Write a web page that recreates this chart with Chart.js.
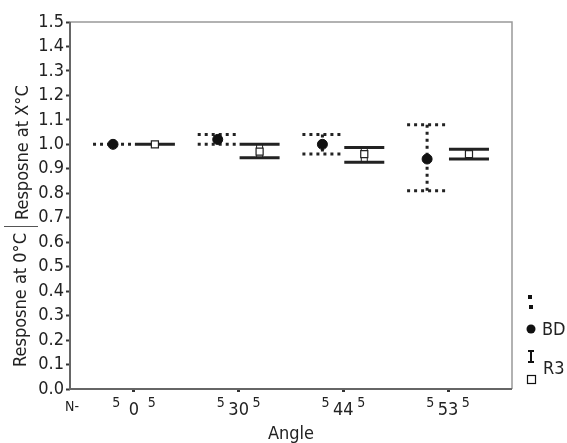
<!DOCTYPE html>
<html>
<head>
<meta charset="utf-8">
<script src="https://cdn.jsdelivr.net/npm/chart.js@4"></script>
<style>
  body { margin: 0; background: #fff; }
  #wrap { width: 567px; height: 443px; }
</style>
</head>
<body>
<div id="wrap"><canvas id="chart" width="567" height="443"></canvas></div>
<script>
const angles = ["0", "30", "44", "53"];

const bdMean = [1.00, 1.02, 1.00, 0.94];
const bdLow = [1.00, 1.00, 0.96, 0.81];
const bdHigh = [1.00, 1.04, 1.04, 1.08];
const bdN = [5, 5, 5, 5];

const r3Mean = [1.00, 0.97, 0.96, 0.96];
const r3Low = [1.00, 0.945, 0.927, 0.94];
const r3High = [1.00, 1.00, 0.987, 0.98];
const r3N = [5, 5, 5, 5];

const yTicks = [0, 0.1, 0.2, 0.3, 0.4, 0.5, 0.6, 0.7, 0.8, 0.9, 1.0, 1.1, 1.2, 1.3, 1.4, 1.5];

const FONT = "'Liberation Sans Narrow', 'DejaVu Sans Condensed', 'Roboto', sans-serif";
const shift = 0.2;

const bdPoints = bdMean.map((v, i) => ({ x: i - shift, y: v }));
const r3Points = r3Mean.map((v, i) => ({ x: i + shift, y: v }));

// error bars, frame, legend, N row and titles
const extras = {
  id: "extras",
  beforeDatasetsDraw(chart) {
    const { ctx, scales: { x, y } } = chart;
    const capW = 20;
    ctx.save();
    ctx.strokeStyle = "#222";

    // BD: dotted bars
    ctx.lineWidth = 3;
    ctx.setLineDash([3, 4]);
    bdMean.forEach((m, i) => {
      const px = x.getPixelForValue(i - shift);
      const lo = y.getPixelForValue(bdLow[i]);
      const hi = y.getPixelForValue(bdHigh[i]);
      ctx.beginPath();
      ctx.moveTo(px - capW, hi); ctx.lineTo(px + capW, hi);
      ctx.moveTo(px - capW, lo); ctx.lineTo(px + capW, lo);
      if (hi !== lo) { ctx.moveTo(px, hi); ctx.lineTo(px, lo); }
      ctx.stroke();
    });
    ctx.setLineDash([]);

    // R3: solid caps, double stem
    r3Mean.forEach((m, i) => {
      const px = x.getPixelForValue(i + shift);
      const lo = y.getPixelForValue(r3Low[i]);
      const hi = y.getPixelForValue(r3High[i]);
      ctx.lineWidth = 3;
      ctx.beginPath();
      ctx.moveTo(px - capW, hi); ctx.lineTo(px + capW, hi);
      ctx.moveTo(px - capW, lo); ctx.lineTo(px + capW, lo);
      ctx.stroke();
      ctx.lineWidth = 1;
      ctx.beginPath();
      ctx.moveTo(px - 3, hi); ctx.lineTo(px - 3, lo);
      ctx.moveTo(px + 3, hi); ctx.lineTo(px + 3, lo);
      ctx.stroke();
    });
    ctx.restore();
  },
  afterDraw(chart) {
    const { ctx, chartArea: a, scales: { x } } = chart;
    ctx.save();
    // frame
    ctx.strokeStyle = "#999";
    ctx.lineWidth = 1.5;
    ctx.beginPath();
    ctx.moveTo(a.left, a.top); ctx.lineTo(a.right, a.top); ctx.lineTo(a.right, a.bottom);
    ctx.stroke();
    ctx.strokeStyle = "#666";
    ctx.lineWidth = 2;
    ctx.beginPath();
    ctx.moveTo(a.left, a.top); ctx.lineTo(a.left, a.bottom); ctx.lineTo(a.right, a.bottom);
    ctx.stroke();

    ctx.fillStyle = "#222";
    // N row
    ctx.font = "14px " + FONT;
    ctx.textAlign = "center";
    ctx.textBaseline = "middle";
    ctx.fillText("N-", a.left + 2, 407);
    angles.forEach((_, i) => {
      ctx.fillText(String(bdN[i]), x.getPixelForValue(i - 0.17), 403);
      ctx.fillText(String(r3N[i]), x.getPixelForValue(i + 0.17), 403);
    });

    // x title
    ctx.font = "18px " + FONT;
    ctx.fillText("Angle", (a.left + a.right) / 2, 434);

    // y title
    ctx.save();
    ctx.translate(21, 0);
    ctx.rotate(-Math.PI / 2);
    ctx.textAlign = "right";
    ctx.fillText("Resposne at 0°C", -233, 0);
    ctx.textAlign = "left";
    ctx.fillText("Resposne at X°C", -220, 2);
    ctx.restore();
    ctx.lineWidth = 1;
    ctx.strokeStyle = "#555";
    ctx.beginPath();
    ctx.moveTo(4, 226.5); ctx.lineTo(38, 226.5);
    ctx.stroke();

    // legend
    ctx.fillStyle = "#111";
    ctx.fillRect(528, 295, 4, 4);
    ctx.fillRect(529, 305, 4, 4);
    ctx.beginPath();
    ctx.arc(531, 329, 4.5, 0, Math.PI * 2);
    ctx.fill();
    ctx.lineWidth = 2;
    ctx.strokeStyle = "#111";
    ctx.beginPath();
    ctx.moveTo(528, 351); ctx.lineTo(534, 351);
    ctx.moveTo(531, 351); ctx.lineTo(531, 362);
    ctx.moveTo(528, 362); ctx.lineTo(534, 362);
    ctx.stroke();
    ctx.lineWidth = 1.2;
    ctx.fillStyle = "#fff";
    ctx.fillRect(527, 375, 8, 8);
    ctx.strokeRect(527.5, 375.5, 8, 8);
    ctx.fillStyle = "#222";
    ctx.font = "18px " + FONT;
    ctx.textAlign = "left";
    ctx.fillText("BD", 542, 330);
    ctx.fillText("R3", 543, 369);
    ctx.restore();
  }
};

new Chart(document.getElementById("chart"), {
  type: "scatter",
  data: {
    datasets: [
      {
        label: "BD",
        data: bdPoints,
        pointStyle: "circle",
        pointRadius: 5,
        backgroundColor: "#111",
        borderColor: "#111",
        borderWidth: 1,
      },
      {
        label: "R3",
        data: r3Points,
        pointStyle: "rect",
        pointRadius: 5,
        backgroundColor: "#fff",
        borderColor: "#222",
        borderWidth: 1.2,
      },
    ],
  },
  options: {
    responsive: false,
    animation: false,
    layout: { padding: { top: 22, right: 55, left: 0, bottom: 0 } },
    plugins: { legend: { display: false }, tooltip: { enabled: false } },
    scales: {
      x: {
        type: "linear",
        min: -0.611,
        max: 3.611,
        afterBuildTicks: (s) => { s.ticks = angles.map((_, i) => ({ value: i })); },
        afterFit: (s) => { s.height = 54; },
        grid: { drawOnChartArea: false, tickLength: 3, tickWidth: 3, color: "#333" },
        border: { display: false },
        ticks: {
          callback: (v) => angles[v],
          font: { family: FONT, size: 18 },
          color: "#222",
          padding: 8,
          maxRotation: 0,
          autoSkip: false,
        },
      },
      y: {
        min: 0,
        max: 1.5,
        afterBuildTicks: (s) => { s.ticks = yTicks.map((v) => ({ value: v })); },
        afterFit: (s) => { s.width = 70; },
        grid: { drawOnChartArea: false, tickLength: 4, tickWidth: 2, color: "#333" },
        border: { display: false },
        ticks: {
          callback: (v) => v.toFixed(1),
          font: { family: FONT, size: 18 },
          color: "#222",
          padding: 2,
          autoSkip: false,
        },
      },
    },
  },
  plugins: [extras],
});
</script>
</body>
</html>
